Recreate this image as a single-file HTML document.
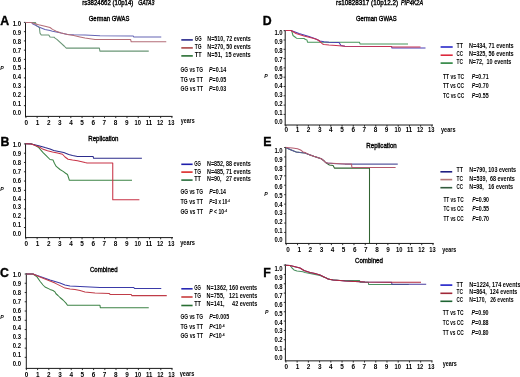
<!DOCTYPE html>
<html><head><meta charset="utf-8"><style>
html,body{margin:0;padding:0;background:#fff;}
svg{display:block;}
text{font-family:"Liberation Sans", sans-serif;fill:#000;white-space:pre;stroke:#000;stroke-width:0.0px;}
.t{filter:grayscale(1) blur(0.35px);}
</style></head><body>
<svg width="520" height="377" viewBox="0 0 520 377">
<rect width="520" height="377" fill="#fff"/>
<g>
<line x1="25.50" y1="22.20" x2="25.50" y2="116.90" stroke="#1a1a1a" stroke-width="1"/>
<line x1="23.90" y1="22.40" x2="25.50" y2="22.40" stroke="#1a1a1a" stroke-width="0.9"/>
<line x1="23.90" y1="31.65" x2="25.50" y2="31.65" stroke="#1a1a1a" stroke-width="0.9"/>
<line x1="23.90" y1="40.90" x2="25.50" y2="40.90" stroke="#1a1a1a" stroke-width="0.9"/>
<line x1="23.90" y1="50.15" x2="25.50" y2="50.15" stroke="#1a1a1a" stroke-width="0.9"/>
<line x1="23.90" y1="59.40" x2="25.50" y2="59.40" stroke="#1a1a1a" stroke-width="0.9"/>
<line x1="23.90" y1="68.65" x2="25.50" y2="68.65" stroke="#1a1a1a" stroke-width="0.9"/>
<line x1="23.90" y1="77.90" x2="25.50" y2="77.90" stroke="#1a1a1a" stroke-width="0.9"/>
<line x1="23.90" y1="87.15" x2="25.50" y2="87.15" stroke="#1a1a1a" stroke-width="0.9"/>
<line x1="23.90" y1="96.40" x2="25.50" y2="96.40" stroke="#1a1a1a" stroke-width="0.9"/>
<line x1="23.90" y1="105.65" x2="25.50" y2="105.65" stroke="#1a1a1a" stroke-width="0.9"/>
<line x1="25.00" y1="116.40" x2="172.50" y2="116.40" stroke="#1a1a1a" stroke-width="1"/>
<line x1="25.90" y1="116.40" x2="25.90" y2="118.10" stroke="#1a1a1a" stroke-width="0.9"/>
<line x1="37.13" y1="116.40" x2="37.13" y2="118.10" stroke="#1a1a1a" stroke-width="0.9"/>
<line x1="48.36" y1="116.40" x2="48.36" y2="118.10" stroke="#1a1a1a" stroke-width="0.9"/>
<line x1="59.59" y1="116.40" x2="59.59" y2="118.10" stroke="#1a1a1a" stroke-width="0.9"/>
<line x1="70.82" y1="116.40" x2="70.82" y2="118.10" stroke="#1a1a1a" stroke-width="0.9"/>
<line x1="82.05" y1="116.40" x2="82.05" y2="118.10" stroke="#1a1a1a" stroke-width="0.9"/>
<line x1="93.28" y1="116.40" x2="93.28" y2="118.10" stroke="#1a1a1a" stroke-width="0.9"/>
<line x1="104.52" y1="116.40" x2="104.52" y2="118.10" stroke="#1a1a1a" stroke-width="0.9"/>
<line x1="115.75" y1="116.40" x2="115.75" y2="118.10" stroke="#1a1a1a" stroke-width="0.9"/>
<line x1="126.98" y1="116.40" x2="126.98" y2="118.10" stroke="#1a1a1a" stroke-width="0.9"/>
<line x1="138.21" y1="116.40" x2="138.21" y2="118.10" stroke="#1a1a1a" stroke-width="0.9"/>
<line x1="149.44" y1="116.40" x2="149.44" y2="118.10" stroke="#1a1a1a" stroke-width="0.9"/>
<line x1="160.67" y1="116.40" x2="160.67" y2="118.10" stroke="#1a1a1a" stroke-width="0.9"/>
<line x1="171.90" y1="116.40" x2="171.90" y2="118.10" stroke="#1a1a1a" stroke-width="0.9"/>
<polyline points="25.50,22.40 35.50,22.40 36.25,25.60 39.40,27.50 40.00,33.10 41.25,35.00 48.75,35.00 50.00,36.90 54.40,37.25 55.00,38.10 56.90,39.40 64.40,46.25 66.25,48.10 99.40,48.10 99.90,51.10 148.75,51.10" fill="none" stroke="#6a9676" stroke-width="1.05" stroke-linejoin="round"/>
<polyline points="25.50,22.40 31.50,22.40 32.50,23.75 38.75,26.90 45.00,29.40 50.00,30.60 52.50,31.25 56.25,31.90 61.25,33.10 67.50,34.40 73.75,34.75 85.00,34.90 100.00,35.80 133.20,35.90 133.80,37.00 161.25,37.00" fill="none" stroke="#6464b4" stroke-width="1.05" stroke-linejoin="round"/>
<polyline points="25.50,22.40 31.50,22.40 32.50,23.10 38.75,24.75 45.00,26.25 50.00,27.50 52.50,29.40 56.25,31.25 61.25,33.10 67.50,34.40 73.75,35.60 80.00,36.90 85.00,38.10 95.00,39.50 130.60,39.50 131.20,41.80 166.25,41.80" fill="none" stroke="#b46e78" stroke-width="1.05" stroke-linejoin="round"/>
<line x1="181.30" y1="39.90" x2="192.80" y2="39.90" stroke="#28288c" stroke-width="1.6"/>
<line x1="181.30" y1="47.90" x2="192.80" y2="47.90" stroke="#aa4646" stroke-width="1.6"/>
<line x1="181.30" y1="55.90" x2="192.80" y2="55.90" stroke="#286e32" stroke-width="1.6"/>
<line x1="25.55" y1="143.30" x2="25.55" y2="238.10" stroke="#1a1a1a" stroke-width="1"/>
<line x1="23.95" y1="143.90" x2="25.55" y2="143.90" stroke="#1a1a1a" stroke-width="0.9"/>
<line x1="23.95" y1="153.19" x2="25.55" y2="153.19" stroke="#1a1a1a" stroke-width="0.9"/>
<line x1="23.95" y1="162.48" x2="25.55" y2="162.48" stroke="#1a1a1a" stroke-width="0.9"/>
<line x1="23.95" y1="171.77" x2="25.55" y2="171.77" stroke="#1a1a1a" stroke-width="0.9"/>
<line x1="23.95" y1="181.06" x2="25.55" y2="181.06" stroke="#1a1a1a" stroke-width="0.9"/>
<line x1="23.95" y1="190.35" x2="25.55" y2="190.35" stroke="#1a1a1a" stroke-width="0.9"/>
<line x1="23.95" y1="199.64" x2="25.55" y2="199.64" stroke="#1a1a1a" stroke-width="0.9"/>
<line x1="23.95" y1="208.93" x2="25.55" y2="208.93" stroke="#1a1a1a" stroke-width="0.9"/>
<line x1="23.95" y1="218.22" x2="25.55" y2="218.22" stroke="#1a1a1a" stroke-width="0.9"/>
<line x1="23.95" y1="227.51" x2="25.55" y2="227.51" stroke="#1a1a1a" stroke-width="0.9"/>
<line x1="25.05" y1="237.60" x2="173.00" y2="237.60" stroke="#1a1a1a" stroke-width="1"/>
<line x1="25.90" y1="237.60" x2="25.90" y2="239.30" stroke="#1a1a1a" stroke-width="0.9"/>
<line x1="37.13" y1="237.60" x2="37.13" y2="239.30" stroke="#1a1a1a" stroke-width="0.9"/>
<line x1="48.36" y1="237.60" x2="48.36" y2="239.30" stroke="#1a1a1a" stroke-width="0.9"/>
<line x1="59.59" y1="237.60" x2="59.59" y2="239.30" stroke="#1a1a1a" stroke-width="0.9"/>
<line x1="70.82" y1="237.60" x2="70.82" y2="239.30" stroke="#1a1a1a" stroke-width="0.9"/>
<line x1="82.05" y1="237.60" x2="82.05" y2="239.30" stroke="#1a1a1a" stroke-width="0.9"/>
<line x1="93.28" y1="237.60" x2="93.28" y2="239.30" stroke="#1a1a1a" stroke-width="0.9"/>
<line x1="104.52" y1="237.60" x2="104.52" y2="239.30" stroke="#1a1a1a" stroke-width="0.9"/>
<line x1="115.75" y1="237.60" x2="115.75" y2="239.30" stroke="#1a1a1a" stroke-width="0.9"/>
<line x1="126.98" y1="237.60" x2="126.98" y2="239.30" stroke="#1a1a1a" stroke-width="0.9"/>
<line x1="138.21" y1="237.60" x2="138.21" y2="239.30" stroke="#1a1a1a" stroke-width="0.9"/>
<line x1="149.44" y1="237.60" x2="149.44" y2="239.30" stroke="#1a1a1a" stroke-width="0.9"/>
<line x1="160.67" y1="237.60" x2="160.67" y2="239.30" stroke="#1a1a1a" stroke-width="0.9"/>
<line x1="171.90" y1="237.60" x2="171.90" y2="239.30" stroke="#1a1a1a" stroke-width="0.9"/>
<polyline points="25.50,143.70 31.00,143.80 34.50,145.00 38.75,147.60 43.10,152.60 46.90,156.40 50.00,159.50 53.10,160.10 54.40,163.25 56.25,166.40 60.00,169.50 63.10,171.40 65.60,173.25 67.50,174.50 68.75,178.25 69.40,180.30 132.00,180.30" fill="none" stroke="#3c8446" stroke-width="1.05" stroke-linejoin="round"/>
<polyline points="25.50,143.70 31.25,143.90 38.75,145.75 45.00,147.60 50.00,148.90 53.75,150.50 58.75,151.40 63.75,152.60 68.75,154.50 72.50,155.50 77.50,156.40 93.10,156.40 93.60,158.30 141.90,158.30" fill="none" stroke="#2c2c8c" stroke-width="1.05" stroke-linejoin="round"/>
<polyline points="25.50,143.70 31.25,143.90 38.75,146.75 42.50,148.90 47.50,150.75 52.50,152.00 57.50,153.00 62.50,154.25 65.00,157.00 68.10,159.25 72.50,160.10 77.50,160.75 85.00,162.60 87.00,163.00 112.75,163.00 112.75,199.75 139.40,199.75" fill="none" stroke="#c83246" stroke-width="1.05" stroke-linejoin="round"/>
<line x1="181.30" y1="164.30" x2="192.60" y2="164.30" stroke="#1e1eaa" stroke-width="1.6"/>
<line x1="181.30" y1="172.10" x2="192.60" y2="172.10" stroke="#dc2828" stroke-width="1.6"/>
<line x1="181.30" y1="180.10" x2="192.60" y2="180.10" stroke="#286e3c" stroke-width="1.6"/>
<line x1="26.30" y1="273.10" x2="26.30" y2="368.90" stroke="#1a1a1a" stroke-width="1"/>
<line x1="24.70" y1="274.00" x2="26.30" y2="274.00" stroke="#1a1a1a" stroke-width="0.9"/>
<line x1="24.70" y1="283.26" x2="26.30" y2="283.26" stroke="#1a1a1a" stroke-width="0.9"/>
<line x1="24.70" y1="292.52" x2="26.30" y2="292.52" stroke="#1a1a1a" stroke-width="0.9"/>
<line x1="24.70" y1="301.78" x2="26.30" y2="301.78" stroke="#1a1a1a" stroke-width="0.9"/>
<line x1="24.70" y1="311.04" x2="26.30" y2="311.04" stroke="#1a1a1a" stroke-width="0.9"/>
<line x1="24.70" y1="320.30" x2="26.30" y2="320.30" stroke="#1a1a1a" stroke-width="0.9"/>
<line x1="24.70" y1="329.56" x2="26.30" y2="329.56" stroke="#1a1a1a" stroke-width="0.9"/>
<line x1="24.70" y1="338.82" x2="26.30" y2="338.82" stroke="#1a1a1a" stroke-width="0.9"/>
<line x1="24.70" y1="348.08" x2="26.30" y2="348.08" stroke="#1a1a1a" stroke-width="0.9"/>
<line x1="24.70" y1="357.34" x2="26.30" y2="357.34" stroke="#1a1a1a" stroke-width="0.9"/>
<line x1="25.80" y1="368.40" x2="172.50" y2="368.40" stroke="#1a1a1a" stroke-width="1"/>
<line x1="26.40" y1="368.40" x2="26.40" y2="370.10" stroke="#1a1a1a" stroke-width="0.9"/>
<line x1="37.60" y1="368.40" x2="37.60" y2="370.10" stroke="#1a1a1a" stroke-width="0.9"/>
<line x1="48.80" y1="368.40" x2="48.80" y2="370.10" stroke="#1a1a1a" stroke-width="0.9"/>
<line x1="60.00" y1="368.40" x2="60.00" y2="370.10" stroke="#1a1a1a" stroke-width="0.9"/>
<line x1="71.20" y1="368.40" x2="71.20" y2="370.10" stroke="#1a1a1a" stroke-width="0.9"/>
<line x1="82.40" y1="368.40" x2="82.40" y2="370.10" stroke="#1a1a1a" stroke-width="0.9"/>
<line x1="93.60" y1="368.40" x2="93.60" y2="370.10" stroke="#1a1a1a" stroke-width="0.9"/>
<line x1="104.80" y1="368.40" x2="104.80" y2="370.10" stroke="#1a1a1a" stroke-width="0.9"/>
<line x1="116.00" y1="368.40" x2="116.00" y2="370.10" stroke="#1a1a1a" stroke-width="0.9"/>
<line x1="127.20" y1="368.40" x2="127.20" y2="370.10" stroke="#1a1a1a" stroke-width="0.9"/>
<line x1="138.40" y1="368.40" x2="138.40" y2="370.10" stroke="#1a1a1a" stroke-width="0.9"/>
<line x1="149.60" y1="368.40" x2="149.60" y2="370.10" stroke="#1a1a1a" stroke-width="0.9"/>
<line x1="160.80" y1="368.40" x2="160.80" y2="370.10" stroke="#1a1a1a" stroke-width="0.9"/>
<line x1="172.00" y1="368.40" x2="172.00" y2="370.10" stroke="#1a1a1a" stroke-width="0.9"/>
<polyline points="26.20,274.00 33.00,274.00 37.00,276.90 40.00,281.25 43.00,285.00 45.00,287.00 50.00,289.40 53.00,290.50 55.00,291.90 56.00,293.75 58.00,295.50 60.00,297.50 63.00,300.00 66.00,303.10 67.50,305.30 100.00,305.30 100.30,307.70 148.75,307.70" fill="none" stroke="#3c8246" stroke-width="1.05" stroke-linejoin="round"/>
<polyline points="26.20,274.00 33.00,274.00 40.00,276.60 50.00,280.00 55.00,281.50 60.00,283.10 65.00,285.00 70.00,286.00 85.00,286.70 100.00,287.50 133.75,287.50 134.50,288.40 161.25,288.40" fill="none" stroke="#3a3aa8" stroke-width="1.05" stroke-linejoin="round"/>
<polyline points="26.20,274.00 33.00,274.00 40.00,277.00 50.00,281.00 55.00,283.10 60.00,285.60 65.00,288.10 70.00,289.00 75.00,289.50 80.00,290.60 85.00,291.90 95.00,293.10 109.40,293.50 110.00,294.40 131.25,294.40 131.75,295.60 166.75,295.60" fill="none" stroke="#c03c48" stroke-width="1.05" stroke-linejoin="round"/>
<line x1="181.30" y1="288.80" x2="192.60" y2="288.80" stroke="#2828b4" stroke-width="1.6"/>
<line x1="181.30" y1="297.00" x2="192.60" y2="297.00" stroke="#c83c3c" stroke-width="1.6"/>
<line x1="181.30" y1="305.50" x2="192.60" y2="305.50" stroke="#286e32" stroke-width="1.6"/>
<line x1="285.20" y1="30.10" x2="285.20" y2="125.50" stroke="#1a1a1a" stroke-width="1"/>
<line x1="283.60" y1="30.70" x2="285.20" y2="30.70" stroke="#1a1a1a" stroke-width="0.9"/>
<line x1="283.60" y1="40.00" x2="285.20" y2="40.00" stroke="#1a1a1a" stroke-width="0.9"/>
<line x1="283.60" y1="49.30" x2="285.20" y2="49.30" stroke="#1a1a1a" stroke-width="0.9"/>
<line x1="283.60" y1="58.60" x2="285.20" y2="58.60" stroke="#1a1a1a" stroke-width="0.9"/>
<line x1="283.60" y1="67.90" x2="285.20" y2="67.90" stroke="#1a1a1a" stroke-width="0.9"/>
<line x1="283.60" y1="77.20" x2="285.20" y2="77.20" stroke="#1a1a1a" stroke-width="0.9"/>
<line x1="283.60" y1="86.50" x2="285.20" y2="86.50" stroke="#1a1a1a" stroke-width="0.9"/>
<line x1="283.60" y1="95.80" x2="285.20" y2="95.80" stroke="#1a1a1a" stroke-width="0.9"/>
<line x1="283.60" y1="105.10" x2="285.20" y2="105.10" stroke="#1a1a1a" stroke-width="0.9"/>
<line x1="283.60" y1="114.40" x2="285.20" y2="114.40" stroke="#1a1a1a" stroke-width="0.9"/>
<line x1="284.70" y1="125.00" x2="433.00" y2="125.00" stroke="#1a1a1a" stroke-width="1"/>
<line x1="285.90" y1="125.00" x2="285.90" y2="126.70" stroke="#1a1a1a" stroke-width="0.9"/>
<line x1="297.13" y1="125.00" x2="297.13" y2="126.70" stroke="#1a1a1a" stroke-width="0.9"/>
<line x1="308.36" y1="125.00" x2="308.36" y2="126.70" stroke="#1a1a1a" stroke-width="0.9"/>
<line x1="319.59" y1="125.00" x2="319.59" y2="126.70" stroke="#1a1a1a" stroke-width="0.9"/>
<line x1="330.82" y1="125.00" x2="330.82" y2="126.70" stroke="#1a1a1a" stroke-width="0.9"/>
<line x1="342.05" y1="125.00" x2="342.05" y2="126.70" stroke="#1a1a1a" stroke-width="0.9"/>
<line x1="353.28" y1="125.00" x2="353.28" y2="126.70" stroke="#1a1a1a" stroke-width="0.9"/>
<line x1="364.52" y1="125.00" x2="364.52" y2="126.70" stroke="#1a1a1a" stroke-width="0.9"/>
<line x1="375.75" y1="125.00" x2="375.75" y2="126.70" stroke="#1a1a1a" stroke-width="0.9"/>
<line x1="386.98" y1="125.00" x2="386.98" y2="126.70" stroke="#1a1a1a" stroke-width="0.9"/>
<line x1="398.21" y1="125.00" x2="398.21" y2="126.70" stroke="#1a1a1a" stroke-width="0.9"/>
<line x1="409.44" y1="125.00" x2="409.44" y2="126.70" stroke="#1a1a1a" stroke-width="0.9"/>
<line x1="420.67" y1="125.00" x2="420.67" y2="126.70" stroke="#1a1a1a" stroke-width="0.9"/>
<line x1="431.90" y1="125.00" x2="431.90" y2="126.70" stroke="#1a1a1a" stroke-width="0.9"/>
<polyline points="285.50,30.50 291.50,30.50 292.00,32.00 293.00,35.50 295.00,37.00 296.50,38.20 304.00,38.50 305.50,39.50 307.00,40.00 307.50,42.20 359.50,42.20 360.00,43.90 408.00,43.90" fill="none" stroke="#46965a" stroke-width="1.05" stroke-linejoin="round"/>
<polyline points="285.50,30.50 291.00,30.50 299.00,33.50 309.00,36.50 316.00,39.00 320.00,41.00 324.00,41.80 329.00,42.20 339.00,42.50 341.00,45.50 345.00,46.20 391.50,46.50 392.00,48.00 425.50,48.00" fill="none" stroke="#4a3cb4" stroke-width="1.05" stroke-linejoin="round"/>
<polyline points="285.50,30.50 291.00,30.50 296.00,33.50 304.00,36.00 310.00,37.50 314.00,38.50 318.00,40.00 321.00,42.50 322.50,44.00 324.00,44.50 329.00,45.00 336.00,45.50 345.00,46.20 391.50,46.50 392.00,47.00 420.50,47.00" fill="none" stroke="#c83250" stroke-width="1.05" stroke-linejoin="round"/>
<line x1="440.60" y1="47.00" x2="452.70" y2="47.00" stroke="#2828c8" stroke-width="1.6"/>
<line x1="440.60" y1="55.20" x2="452.70" y2="55.20" stroke="#dc283c" stroke-width="1.6"/>
<line x1="440.60" y1="63.10" x2="452.70" y2="63.10" stroke="#28823c" stroke-width="1.6"/>
<line x1="285.80" y1="146.90" x2="285.80" y2="243.95" stroke="#1a1a1a" stroke-width="1"/>
<line x1="284.20" y1="147.50" x2="285.80" y2="147.50" stroke="#1a1a1a" stroke-width="0.9"/>
<line x1="284.20" y1="156.94" x2="285.80" y2="156.94" stroke="#1a1a1a" stroke-width="0.9"/>
<line x1="284.20" y1="166.38" x2="285.80" y2="166.38" stroke="#1a1a1a" stroke-width="0.9"/>
<line x1="284.20" y1="175.82" x2="285.80" y2="175.82" stroke="#1a1a1a" stroke-width="0.9"/>
<line x1="284.20" y1="185.26" x2="285.80" y2="185.26" stroke="#1a1a1a" stroke-width="0.9"/>
<line x1="284.20" y1="194.70" x2="285.80" y2="194.70" stroke="#1a1a1a" stroke-width="0.9"/>
<line x1="284.20" y1="204.14" x2="285.80" y2="204.14" stroke="#1a1a1a" stroke-width="0.9"/>
<line x1="284.20" y1="213.58" x2="285.80" y2="213.58" stroke="#1a1a1a" stroke-width="0.9"/>
<line x1="284.20" y1="223.02" x2="285.80" y2="223.02" stroke="#1a1a1a" stroke-width="0.9"/>
<line x1="284.20" y1="232.46" x2="285.80" y2="232.46" stroke="#1a1a1a" stroke-width="0.9"/>
<line x1="285.30" y1="243.45" x2="433.75" y2="243.45" stroke="#1a1a1a" stroke-width="1"/>
<line x1="286.25" y1="243.45" x2="286.25" y2="245.15" stroke="#1a1a1a" stroke-width="0.9"/>
<line x1="297.54" y1="243.45" x2="297.54" y2="245.15" stroke="#1a1a1a" stroke-width="0.9"/>
<line x1="308.83" y1="243.45" x2="308.83" y2="245.15" stroke="#1a1a1a" stroke-width="0.9"/>
<line x1="320.12" y1="243.45" x2="320.12" y2="245.15" stroke="#1a1a1a" stroke-width="0.9"/>
<line x1="331.40" y1="243.45" x2="331.40" y2="245.15" stroke="#1a1a1a" stroke-width="0.9"/>
<line x1="342.69" y1="243.45" x2="342.69" y2="245.15" stroke="#1a1a1a" stroke-width="0.9"/>
<line x1="353.98" y1="243.45" x2="353.98" y2="245.15" stroke="#1a1a1a" stroke-width="0.9"/>
<line x1="365.27" y1="243.45" x2="365.27" y2="245.15" stroke="#1a1a1a" stroke-width="0.9"/>
<line x1="376.56" y1="243.45" x2="376.56" y2="245.15" stroke="#1a1a1a" stroke-width="0.9"/>
<line x1="387.85" y1="243.45" x2="387.85" y2="245.15" stroke="#1a1a1a" stroke-width="0.9"/>
<line x1="399.13" y1="243.45" x2="399.13" y2="245.15" stroke="#1a1a1a" stroke-width="0.9"/>
<line x1="410.42" y1="243.45" x2="410.42" y2="245.15" stroke="#1a1a1a" stroke-width="0.9"/>
<line x1="421.71" y1="243.45" x2="421.71" y2="245.15" stroke="#1a1a1a" stroke-width="0.9"/>
<line x1="433.00" y1="243.45" x2="433.00" y2="245.15" stroke="#1a1a1a" stroke-width="0.9"/>
<polyline points="285.80,147.50 290.00,149.40 293.75,151.00 296.25,151.90 300.00,152.50 305.00,153.10 308.75,154.40 313.75,156.25 317.50,157.50 321.25,158.75 323.75,160.60 325.60,162.50 327.50,163.75 329.40,165.00 333.10,165.60 334.40,168.10 369.50,168.10 369.50,243.00" fill="none" stroke="#326432" stroke-width="1.05" stroke-linejoin="round"/>
<polyline points="285.80,147.50 290.00,149.40 293.75,151.00 296.25,151.90 300.00,152.50 305.00,153.10 308.75,154.40 313.75,156.25 317.50,157.50 321.25,158.75 323.75,160.60 325.60,162.50 327.50,163.10 336.25,163.75 345.00,164.10 397.75,164.10" fill="none" stroke="#5a5aa0" stroke-width="1.05" stroke-linejoin="round"/>
<polyline points="285.80,147.50 292.50,148.10 297.50,148.75 300.60,150.00 303.10,151.90 305.00,152.50 308.75,154.40 313.75,156.25 317.50,157.50 321.25,158.75 323.75,160.60 325.60,162.50 327.50,163.10 336.25,163.60 345.00,164.00 351.50,164.00 351.90,167.40 395.60,167.40" fill="none" stroke="#b45a6e" stroke-width="1.05" stroke-linejoin="round"/>
<line x1="440.40" y1="171.80" x2="452.20" y2="171.80" stroke="#1e1e82" stroke-width="1.6"/>
<line x1="440.40" y1="179.60" x2="452.20" y2="179.60" stroke="#b47878" stroke-width="1.6"/>
<line x1="440.40" y1="187.70" x2="452.20" y2="187.70" stroke="#325a3c" stroke-width="1.6"/>
<line x1="285.40" y1="264.30" x2="285.40" y2="361.35" stroke="#1a1a1a" stroke-width="1"/>
<line x1="283.80" y1="265.10" x2="285.40" y2="265.10" stroke="#1a1a1a" stroke-width="0.9"/>
<line x1="283.80" y1="274.43" x2="285.40" y2="274.43" stroke="#1a1a1a" stroke-width="0.9"/>
<line x1="283.80" y1="283.76" x2="285.40" y2="283.76" stroke="#1a1a1a" stroke-width="0.9"/>
<line x1="283.80" y1="293.09" x2="285.40" y2="293.09" stroke="#1a1a1a" stroke-width="0.9"/>
<line x1="283.80" y1="302.42" x2="285.40" y2="302.42" stroke="#1a1a1a" stroke-width="0.9"/>
<line x1="283.80" y1="311.75" x2="285.40" y2="311.75" stroke="#1a1a1a" stroke-width="0.9"/>
<line x1="283.80" y1="321.08" x2="285.40" y2="321.08" stroke="#1a1a1a" stroke-width="0.9"/>
<line x1="283.80" y1="330.41" x2="285.40" y2="330.41" stroke="#1a1a1a" stroke-width="0.9"/>
<line x1="283.80" y1="339.74" x2="285.40" y2="339.74" stroke="#1a1a1a" stroke-width="0.9"/>
<line x1="283.80" y1="349.07" x2="285.40" y2="349.07" stroke="#1a1a1a" stroke-width="0.9"/>
<line x1="284.90" y1="360.85" x2="432.50" y2="360.85" stroke="#1a1a1a" stroke-width="1"/>
<line x1="285.90" y1="360.85" x2="285.90" y2="362.55" stroke="#1a1a1a" stroke-width="0.9"/>
<line x1="297.13" y1="360.85" x2="297.13" y2="362.55" stroke="#1a1a1a" stroke-width="0.9"/>
<line x1="308.36" y1="360.85" x2="308.36" y2="362.55" stroke="#1a1a1a" stroke-width="0.9"/>
<line x1="319.59" y1="360.85" x2="319.59" y2="362.55" stroke="#1a1a1a" stroke-width="0.9"/>
<line x1="330.82" y1="360.85" x2="330.82" y2="362.55" stroke="#1a1a1a" stroke-width="0.9"/>
<line x1="342.05" y1="360.85" x2="342.05" y2="362.55" stroke="#1a1a1a" stroke-width="0.9"/>
<line x1="353.28" y1="360.85" x2="353.28" y2="362.55" stroke="#1a1a1a" stroke-width="0.9"/>
<line x1="364.52" y1="360.85" x2="364.52" y2="362.55" stroke="#1a1a1a" stroke-width="0.9"/>
<line x1="375.75" y1="360.85" x2="375.75" y2="362.55" stroke="#1a1a1a" stroke-width="0.9"/>
<line x1="386.98" y1="360.85" x2="386.98" y2="362.55" stroke="#1a1a1a" stroke-width="0.9"/>
<line x1="398.21" y1="360.85" x2="398.21" y2="362.55" stroke="#1a1a1a" stroke-width="0.9"/>
<line x1="409.44" y1="360.85" x2="409.44" y2="362.55" stroke="#1a1a1a" stroke-width="0.9"/>
<line x1="420.67" y1="360.85" x2="420.67" y2="362.55" stroke="#1a1a1a" stroke-width="0.9"/>
<line x1="431.90" y1="360.85" x2="431.90" y2="362.55" stroke="#1a1a1a" stroke-width="0.9"/>
<polyline points="285.60,265.20 290.00,265.50 292.00,268.00 294.00,269.90 297.00,271.10 303.00,271.75 305.00,272.50 320.00,275.50 323.00,276.75 325.00,277.50 330.00,279.50 340.00,280.50 359.50,280.50 360.00,282.20 368.30,282.20 368.60,284.40 408.75,284.40" fill="none" stroke="#4a9060" stroke-width="1.05" stroke-linejoin="round"/>
<polyline points="285.60,265.20 290.00,265.50 295.00,266.75 300.00,268.00 304.00,270.50 310.00,272.40 315.00,273.60 320.00,274.90 323.00,276.50 325.00,277.40 328.00,279.00 333.00,279.90 340.00,280.50 345.00,281.10 365.00,282.00 391.50,282.20 392.00,284.30 426.20,284.30" fill="none" stroke="#4a3ca0" stroke-width="1.05" stroke-linejoin="round"/>
<polyline points="285.60,265.20 290.00,265.50 295.00,266.75 300.00,268.00 304.00,270.50 310.00,272.40 315.00,273.60 320.00,274.90 323.00,276.50 325.00,277.40 328.00,279.00 333.00,279.90 340.00,280.50 345.00,281.10 365.00,282.00 390.00,282.20 421.00,282.20" fill="none" stroke="#b4283c" stroke-width="1.05" stroke-linejoin="round"/>
<line x1="440.40" y1="285.10" x2="452.30" y2="285.10" stroke="#1e1ec8" stroke-width="1.6"/>
<line x1="440.40" y1="293.30" x2="452.30" y2="293.30" stroke="#a02838" stroke-width="1.6"/>
<line x1="440.40" y1="301.30" x2="452.30" y2="301.30" stroke="#1e6432" stroke-width="1.6"/>
</g>
<g class="t">
<text x="0.20" y="24.50" font-size="12.3" font-weight="bold" style="stroke-width:0.35px">A</text>
<text x="12.70" y="25.99" font-size="6.4" font-weight="bold" textLength="8.30" lengthAdjust="spacingAndGlyphs" style="stroke-width:0">1.0</text>
<text x="12.70" y="34.87" font-size="6.4" font-weight="bold" textLength="8.30" lengthAdjust="spacingAndGlyphs" style="stroke-width:0">0.9</text>
<text x="12.70" y="43.75" font-size="6.4" font-weight="bold" textLength="8.30" lengthAdjust="spacingAndGlyphs" style="stroke-width:0">0.8</text>
<text x="12.70" y="52.63" font-size="6.4" font-weight="bold" textLength="8.30" lengthAdjust="spacingAndGlyphs" style="stroke-width:0">0.7</text>
<text x="12.70" y="61.51" font-size="6.4" font-weight="bold" textLength="8.30" lengthAdjust="spacingAndGlyphs" style="stroke-width:0">0.6</text>
<text x="12.70" y="70.39" font-size="6.4" font-weight="bold" textLength="8.30" lengthAdjust="spacingAndGlyphs" style="stroke-width:0">0.5</text>
<text x="12.70" y="79.27" font-size="6.4" font-weight="bold" textLength="8.30" lengthAdjust="spacingAndGlyphs" style="stroke-width:0">0.4</text>
<text x="12.70" y="88.15" font-size="6.4" font-weight="bold" textLength="8.30" lengthAdjust="spacingAndGlyphs" style="stroke-width:0">0.3</text>
<text x="12.70" y="97.03" font-size="6.4" font-weight="bold" textLength="8.30" lengthAdjust="spacingAndGlyphs" style="stroke-width:0">0.2</text>
<text x="12.70" y="105.91" font-size="6.4" font-weight="bold" textLength="8.30" lengthAdjust="spacingAndGlyphs" style="stroke-width:0">0.1</text>
<text x="12.70" y="114.79" font-size="6.4" font-weight="bold" textLength="8.30" lengthAdjust="spacingAndGlyphs" style="stroke-width:0">0.0</text>
<text x="26.40" y="124.94" font-size="6.4" font-weight="bold" text-anchor="middle" style="stroke-width:0">0</text>
<text x="37.54" y="124.94" font-size="6.4" font-weight="bold" text-anchor="middle" style="stroke-width:0">1</text>
<text x="48.68" y="124.94" font-size="6.4" font-weight="bold" text-anchor="middle" style="stroke-width:0">2</text>
<text x="59.83" y="124.94" font-size="6.4" font-weight="bold" text-anchor="middle" style="stroke-width:0">3</text>
<text x="70.97" y="124.94" font-size="6.4" font-weight="bold" text-anchor="middle" style="stroke-width:0">4</text>
<text x="82.11" y="124.94" font-size="6.4" font-weight="bold" text-anchor="middle" style="stroke-width:0">5</text>
<text x="93.25" y="124.94" font-size="6.4" font-weight="bold" text-anchor="middle" style="stroke-width:0">6</text>
<text x="104.40" y="124.94" font-size="6.4" font-weight="bold" text-anchor="middle" style="stroke-width:0">7</text>
<text x="115.54" y="124.94" font-size="6.4" font-weight="bold" text-anchor="middle" style="stroke-width:0">8</text>
<text x="126.68" y="124.94" font-size="6.4" font-weight="bold" text-anchor="middle" style="stroke-width:0">9</text>
<text x="134.62" y="124.94" font-size="6.4" font-weight="bold" textLength="6.40" lengthAdjust="spacingAndGlyphs" style="stroke-width:0">10</text>
<text x="145.77" y="124.94" font-size="6.4" font-weight="bold" textLength="6.40" lengthAdjust="spacingAndGlyphs" style="stroke-width:0">11</text>
<text x="156.91" y="124.94" font-size="6.4" font-weight="bold" textLength="6.40" lengthAdjust="spacingAndGlyphs" style="stroke-width:0">12</text>
<text x="168.05" y="124.94" font-size="6.4" font-weight="bold" textLength="6.40" lengthAdjust="spacingAndGlyphs" style="stroke-width:0">13</text>
<text x="180.80" y="122.70" font-size="6.7" font-weight="bold" textLength="13.80" lengthAdjust="spacingAndGlyphs">years</text>
<text x="88.80" y="21.00" font-size="6.6" textLength="40.60" lengthAdjust="spacingAndGlyphs" style="stroke-width:0.35px">German GWAS</text>
<text x="0.20" y="69.70" font-size="5.2" font-weight="bold" font-style="italic">P</text>
<text x="194.80" y="41.10" font-size="6.3" font-weight="bold" textLength="6.80" lengthAdjust="spacingAndGlyphs">GG</text>
<text x="207.30" y="41.10" font-size="6.3" font-weight="bold" textLength="43.40" lengthAdjust="spacingAndGlyphs">N=510, 72 events</text>
<text x="194.80" y="48.90" font-size="6.3" font-weight="bold" textLength="6.80" lengthAdjust="spacingAndGlyphs">TG</text>
<text x="207.30" y="48.90" font-size="6.3" font-weight="bold" textLength="43.40" lengthAdjust="spacingAndGlyphs">N=270, 50 events</text>
<text x="194.80" y="56.70" font-size="6.3" font-weight="bold" textLength="6.80" lengthAdjust="spacingAndGlyphs">TT</text>
<text x="207.30" y="56.70" font-size="6.3" font-weight="bold" textLength="43.40" lengthAdjust="spacingAndGlyphs">N=51,  15 events</text>
<text x="180.60" y="72.25" font-size="6.3" font-weight="bold" textLength="22.40" lengthAdjust="spacingAndGlyphs">GG vs TG</text>
<text x="209.00" y="72.25" font-size="6.3" font-weight="bold" textLength="17.20" lengthAdjust="spacingAndGlyphs"><tspan font-style="italic">P</tspan>=0.14</text>
<text x="180.60" y="81.75" font-size="6.3" font-weight="bold" textLength="22.40" lengthAdjust="spacingAndGlyphs">TG vs TT</text>
<text x="209.00" y="81.75" font-size="6.3" font-weight="bold" textLength="17.20" lengthAdjust="spacingAndGlyphs"><tspan font-style="italic">P</tspan>=0.05</text>
<text x="180.60" y="91.25" font-size="6.3" font-weight="bold" textLength="22.40" lengthAdjust="spacingAndGlyphs">GG vs TT</text>
<text x="209.00" y="91.25" font-size="6.3" font-weight="bold" textLength="17.20" lengthAdjust="spacingAndGlyphs"><tspan font-style="italic">P</tspan>=0.03</text>
<text x="0.60" y="145.50" font-size="12.3" font-weight="bold" style="stroke-width:0.35px">B</text>
<text x="12.70" y="146.69" font-size="6.4" font-weight="bold" textLength="8.30" lengthAdjust="spacingAndGlyphs" style="stroke-width:0">1.0</text>
<text x="12.70" y="155.66" font-size="6.4" font-weight="bold" textLength="8.30" lengthAdjust="spacingAndGlyphs" style="stroke-width:0">0.9</text>
<text x="12.70" y="164.63" font-size="6.4" font-weight="bold" textLength="8.30" lengthAdjust="spacingAndGlyphs" style="stroke-width:0">0.8</text>
<text x="12.70" y="173.60" font-size="6.4" font-weight="bold" textLength="8.30" lengthAdjust="spacingAndGlyphs" style="stroke-width:0">0.7</text>
<text x="12.70" y="182.57" font-size="6.4" font-weight="bold" textLength="8.30" lengthAdjust="spacingAndGlyphs" style="stroke-width:0">0.6</text>
<text x="12.70" y="191.54" font-size="6.4" font-weight="bold" textLength="8.30" lengthAdjust="spacingAndGlyphs" style="stroke-width:0">0.5</text>
<text x="12.70" y="200.51" font-size="6.4" font-weight="bold" textLength="8.30" lengthAdjust="spacingAndGlyphs" style="stroke-width:0">0.4</text>
<text x="12.70" y="209.48" font-size="6.4" font-weight="bold" textLength="8.30" lengthAdjust="spacingAndGlyphs" style="stroke-width:0">0.3</text>
<text x="12.70" y="218.45" font-size="6.4" font-weight="bold" textLength="8.30" lengthAdjust="spacingAndGlyphs" style="stroke-width:0">0.2</text>
<text x="12.70" y="227.42" font-size="6.4" font-weight="bold" textLength="8.30" lengthAdjust="spacingAndGlyphs" style="stroke-width:0">0.1</text>
<text x="12.70" y="236.39" font-size="6.4" font-weight="bold" textLength="8.30" lengthAdjust="spacingAndGlyphs" style="stroke-width:0">0.0</text>
<text x="26.40" y="245.99" font-size="6.4" font-weight="bold" text-anchor="middle" style="stroke-width:0">0</text>
<text x="37.54" y="245.99" font-size="6.4" font-weight="bold" text-anchor="middle" style="stroke-width:0">1</text>
<text x="48.68" y="245.99" font-size="6.4" font-weight="bold" text-anchor="middle" style="stroke-width:0">2</text>
<text x="59.83" y="245.99" font-size="6.4" font-weight="bold" text-anchor="middle" style="stroke-width:0">3</text>
<text x="70.97" y="245.99" font-size="6.4" font-weight="bold" text-anchor="middle" style="stroke-width:0">4</text>
<text x="82.11" y="245.99" font-size="6.4" font-weight="bold" text-anchor="middle" style="stroke-width:0">5</text>
<text x="93.25" y="245.99" font-size="6.4" font-weight="bold" text-anchor="middle" style="stroke-width:0">6</text>
<text x="104.40" y="245.99" font-size="6.4" font-weight="bold" text-anchor="middle" style="stroke-width:0">7</text>
<text x="115.54" y="245.99" font-size="6.4" font-weight="bold" text-anchor="middle" style="stroke-width:0">8</text>
<text x="126.68" y="245.99" font-size="6.4" font-weight="bold" text-anchor="middle" style="stroke-width:0">9</text>
<text x="134.62" y="245.99" font-size="6.4" font-weight="bold" textLength="6.40" lengthAdjust="spacingAndGlyphs" style="stroke-width:0">10</text>
<text x="145.77" y="245.99" font-size="6.4" font-weight="bold" textLength="6.40" lengthAdjust="spacingAndGlyphs" style="stroke-width:0">11</text>
<text x="156.91" y="245.99" font-size="6.4" font-weight="bold" textLength="6.40" lengthAdjust="spacingAndGlyphs" style="stroke-width:0">12</text>
<text x="168.05" y="245.99" font-size="6.4" font-weight="bold" textLength="6.40" lengthAdjust="spacingAndGlyphs" style="stroke-width:0">13</text>
<text x="180.20" y="244.50" font-size="6.7" font-weight="bold" textLength="14.80" lengthAdjust="spacingAndGlyphs">years</text>
<text x="88.30" y="140.70" font-size="6.6" textLength="30.20" lengthAdjust="spacingAndGlyphs" style="stroke-width:0.35px">Replication</text>
<text x="0.20" y="190.50" font-size="5.2" font-weight="bold" font-style="italic">P</text>
<text x="194.20" y="165.65" font-size="6.3" font-weight="bold" textLength="6.80" lengthAdjust="spacingAndGlyphs">GG</text>
<text x="207.00" y="165.65" font-size="6.3" font-weight="bold" textLength="43.70" lengthAdjust="spacingAndGlyphs">N=852, 88 events</text>
<text x="194.20" y="173.65" font-size="6.3" font-weight="bold" textLength="6.80" lengthAdjust="spacingAndGlyphs">TG</text>
<text x="207.00" y="173.65" font-size="6.3" font-weight="bold" textLength="43.70" lengthAdjust="spacingAndGlyphs">N=485, 71 events</text>
<text x="194.20" y="181.40" font-size="6.3" font-weight="bold" textLength="6.80" lengthAdjust="spacingAndGlyphs">TT</text>
<text x="207.00" y="181.40" font-size="6.3" font-weight="bold" textLength="43.70" lengthAdjust="spacingAndGlyphs">N=90,   27 events</text>
<text x="180.40" y="193.90" font-size="6.3" font-weight="bold" textLength="22.60" lengthAdjust="spacingAndGlyphs">GG vs TG</text>
<text x="209.20" y="193.90" font-size="6.3" font-weight="bold" textLength="16.80" lengthAdjust="spacingAndGlyphs"><tspan font-style="italic">P</tspan>=0.14</text>
<text x="180.40" y="203.90" font-size="6.3" font-weight="bold" textLength="22.60" lengthAdjust="spacingAndGlyphs">TG vs TT</text>
<text x="209.20" y="203.90" font-size="6.3" font-weight="bold" textLength="20.60" lengthAdjust="spacingAndGlyphs"><tspan font-style="italic">P</tspan>=3 x 10<tspan font-size="4" dy="-2">-4</tspan></text>
<text x="180.40" y="213.90" font-size="6.3" font-weight="bold" textLength="22.60" lengthAdjust="spacingAndGlyphs">GG vs TT</text>
<text x="209.20" y="213.90" font-size="6.3" font-weight="bold" textLength="17.80" lengthAdjust="spacingAndGlyphs"><tspan font-style="italic">P</tspan> &lt; 10<tspan font-size="4" dy="-2">-4</tspan></text>
<text x="0.10" y="276.50" font-size="12.3" font-weight="bold" style="stroke-width:0.35px">C</text>
<text x="12.70" y="277.19" font-size="6.4" font-weight="bold" textLength="8.30" lengthAdjust="spacingAndGlyphs" style="stroke-width:0">1.0</text>
<text x="12.70" y="286.05" font-size="6.4" font-weight="bold" textLength="8.30" lengthAdjust="spacingAndGlyphs" style="stroke-width:0">0.9</text>
<text x="12.70" y="294.91" font-size="6.4" font-weight="bold" textLength="8.30" lengthAdjust="spacingAndGlyphs" style="stroke-width:0">0.8</text>
<text x="12.70" y="303.77" font-size="6.4" font-weight="bold" textLength="8.30" lengthAdjust="spacingAndGlyphs" style="stroke-width:0">0.7</text>
<text x="12.70" y="312.63" font-size="6.4" font-weight="bold" textLength="8.30" lengthAdjust="spacingAndGlyphs" style="stroke-width:0">0.6</text>
<text x="12.70" y="321.49" font-size="6.4" font-weight="bold" textLength="8.30" lengthAdjust="spacingAndGlyphs" style="stroke-width:0">0.5</text>
<text x="12.70" y="330.35" font-size="6.4" font-weight="bold" textLength="8.30" lengthAdjust="spacingAndGlyphs" style="stroke-width:0">0.4</text>
<text x="12.70" y="339.21" font-size="6.4" font-weight="bold" textLength="8.30" lengthAdjust="spacingAndGlyphs" style="stroke-width:0">0.3</text>
<text x="12.70" y="348.07" font-size="6.4" font-weight="bold" textLength="8.30" lengthAdjust="spacingAndGlyphs" style="stroke-width:0">0.2</text>
<text x="12.70" y="356.93" font-size="6.4" font-weight="bold" textLength="8.30" lengthAdjust="spacingAndGlyphs" style="stroke-width:0">0.1</text>
<text x="12.70" y="365.79" font-size="6.4" font-weight="bold" textLength="8.30" lengthAdjust="spacingAndGlyphs" style="stroke-width:0">0.0</text>
<text x="26.60" y="376.99" font-size="6.4" font-weight="bold" text-anchor="middle" style="stroke-width:0">0</text>
<text x="37.75" y="376.99" font-size="6.4" font-weight="bold" text-anchor="middle" style="stroke-width:0">1</text>
<text x="48.89" y="376.99" font-size="6.4" font-weight="bold" text-anchor="middle" style="stroke-width:0">2</text>
<text x="60.04" y="376.99" font-size="6.4" font-weight="bold" text-anchor="middle" style="stroke-width:0">3</text>
<text x="71.18" y="376.99" font-size="6.4" font-weight="bold" text-anchor="middle" style="stroke-width:0">4</text>
<text x="82.33" y="376.99" font-size="6.4" font-weight="bold" text-anchor="middle" style="stroke-width:0">5</text>
<text x="93.48" y="376.99" font-size="6.4" font-weight="bold" text-anchor="middle" style="stroke-width:0">6</text>
<text x="104.62" y="376.99" font-size="6.4" font-weight="bold" text-anchor="middle" style="stroke-width:0">7</text>
<text x="115.77" y="376.99" font-size="6.4" font-weight="bold" text-anchor="middle" style="stroke-width:0">8</text>
<text x="126.92" y="376.99" font-size="6.4" font-weight="bold" text-anchor="middle" style="stroke-width:0">9</text>
<text x="134.86" y="376.99" font-size="6.4" font-weight="bold" textLength="6.40" lengthAdjust="spacingAndGlyphs" style="stroke-width:0">10</text>
<text x="146.01" y="376.99" font-size="6.4" font-weight="bold" textLength="6.40" lengthAdjust="spacingAndGlyphs" style="stroke-width:0">11</text>
<text x="157.15" y="376.99" font-size="6.4" font-weight="bold" textLength="6.40" lengthAdjust="spacingAndGlyphs" style="stroke-width:0">12</text>
<text x="168.30" y="376.99" font-size="6.4" font-weight="bold" textLength="6.40" lengthAdjust="spacingAndGlyphs" style="stroke-width:0">13</text>
<text x="179.70" y="375.60" font-size="6.7" font-weight="bold" textLength="14.60" lengthAdjust="spacingAndGlyphs">years</text>
<text x="90.00" y="272.00" font-size="6.6" textLength="27.50" lengthAdjust="spacingAndGlyphs" style="stroke-width:0.35px">Combined</text>
<text x="0.20" y="318.80" font-size="5.2" font-weight="bold" font-style="italic">P</text>
<text x="194.20" y="289.90" font-size="6.3" font-weight="bold" textLength="6.80" lengthAdjust="spacingAndGlyphs">GG</text>
<text x="206.60" y="289.90" font-size="6.3" font-weight="bold" textLength="50.60" lengthAdjust="spacingAndGlyphs">N=1362, 160 events</text>
<text x="194.20" y="297.90" font-size="6.3" font-weight="bold" textLength="6.80" lengthAdjust="spacingAndGlyphs">TG</text>
<text x="206.60" y="297.90" font-size="6.3" font-weight="bold" textLength="50.60" lengthAdjust="spacingAndGlyphs">N=755,   121 events</text>
<text x="194.20" y="306.10" font-size="6.3" font-weight="bold" textLength="6.80" lengthAdjust="spacingAndGlyphs">TT</text>
<text x="206.60" y="306.10" font-size="6.3" font-weight="bold" textLength="50.60" lengthAdjust="spacingAndGlyphs">N=141,     42 events</text>
<text x="180.40" y="318.80" font-size="6.3" font-weight="bold" textLength="22.60" lengthAdjust="spacingAndGlyphs">GG vs TG</text>
<text x="209.20" y="318.80" font-size="6.3" font-weight="bold" textLength="20.00" lengthAdjust="spacingAndGlyphs"><tspan font-style="italic">P</tspan>=0.005</text>
<text x="180.40" y="329.10" font-size="6.3" font-weight="bold" textLength="22.60" lengthAdjust="spacingAndGlyphs">TG vs TT</text>
<text x="209.20" y="329.10" font-size="6.3" font-weight="bold" textLength="15.40" lengthAdjust="spacingAndGlyphs"><tspan font-style="italic">P</tspan>&lt;10<tspan font-size="4" dy="-2">-4</tspan></text>
<text x="180.40" y="338.45" font-size="6.3" font-weight="bold" textLength="22.60" lengthAdjust="spacingAndGlyphs">GG vs TT</text>
<text x="209.20" y="338.45" font-size="6.3" font-weight="bold" textLength="15.40" lengthAdjust="spacingAndGlyphs"><tspan font-style="italic">P</tspan>&lt;10<tspan font-size="4" dy="-2">-4</tspan></text>
<text x="262.84" y="25.40" font-size="12.3" font-weight="bold" style="stroke-width:0.35px">D</text>
<text x="274.40" y="34.99" font-size="6.4" font-weight="bold" textLength="8.30" lengthAdjust="spacingAndGlyphs" style="stroke-width:0">1.0</text>
<text x="274.40" y="43.89" font-size="6.4" font-weight="bold" textLength="8.30" lengthAdjust="spacingAndGlyphs" style="stroke-width:0">0.9</text>
<text x="274.40" y="52.79" font-size="6.4" font-weight="bold" textLength="8.30" lengthAdjust="spacingAndGlyphs" style="stroke-width:0">0.8</text>
<text x="274.40" y="61.69" font-size="6.4" font-weight="bold" textLength="8.30" lengthAdjust="spacingAndGlyphs" style="stroke-width:0">0.7</text>
<text x="274.40" y="70.59" font-size="6.4" font-weight="bold" textLength="8.30" lengthAdjust="spacingAndGlyphs" style="stroke-width:0">0.6</text>
<text x="274.40" y="79.49" font-size="6.4" font-weight="bold" textLength="8.30" lengthAdjust="spacingAndGlyphs" style="stroke-width:0">0.5</text>
<text x="274.40" y="88.39" font-size="6.4" font-weight="bold" textLength="8.30" lengthAdjust="spacingAndGlyphs" style="stroke-width:0">0.4</text>
<text x="274.40" y="97.29" font-size="6.4" font-weight="bold" textLength="8.30" lengthAdjust="spacingAndGlyphs" style="stroke-width:0">0.3</text>
<text x="274.40" y="106.19" font-size="6.4" font-weight="bold" textLength="8.30" lengthAdjust="spacingAndGlyphs" style="stroke-width:0">0.2</text>
<text x="274.40" y="115.09" font-size="6.4" font-weight="bold" textLength="8.30" lengthAdjust="spacingAndGlyphs" style="stroke-width:0">0.1</text>
<text x="274.40" y="123.99" font-size="6.4" font-weight="bold" textLength="8.30" lengthAdjust="spacingAndGlyphs" style="stroke-width:0">0.0</text>
<text x="286.30" y="132.24" font-size="6.4" font-weight="bold" text-anchor="middle" style="stroke-width:0">0</text>
<text x="297.45" y="132.24" font-size="6.4" font-weight="bold" text-anchor="middle" style="stroke-width:0">1</text>
<text x="308.60" y="132.24" font-size="6.4" font-weight="bold" text-anchor="middle" style="stroke-width:0">2</text>
<text x="319.75" y="132.24" font-size="6.4" font-weight="bold" text-anchor="middle" style="stroke-width:0">3</text>
<text x="330.90" y="132.24" font-size="6.4" font-weight="bold" text-anchor="middle" style="stroke-width:0">4</text>
<text x="342.05" y="132.24" font-size="6.4" font-weight="bold" text-anchor="middle" style="stroke-width:0">5</text>
<text x="353.20" y="132.24" font-size="6.4" font-weight="bold" text-anchor="middle" style="stroke-width:0">6</text>
<text x="364.35" y="132.24" font-size="6.4" font-weight="bold" text-anchor="middle" style="stroke-width:0">7</text>
<text x="375.50" y="132.24" font-size="6.4" font-weight="bold" text-anchor="middle" style="stroke-width:0">8</text>
<text x="386.65" y="132.24" font-size="6.4" font-weight="bold" text-anchor="middle" style="stroke-width:0">9</text>
<text x="394.60" y="132.24" font-size="6.4" font-weight="bold" textLength="6.40" lengthAdjust="spacingAndGlyphs" style="stroke-width:0">10</text>
<text x="405.75" y="132.24" font-size="6.4" font-weight="bold" textLength="6.40" lengthAdjust="spacingAndGlyphs" style="stroke-width:0">11</text>
<text x="416.90" y="132.24" font-size="6.4" font-weight="bold" textLength="6.40" lengthAdjust="spacingAndGlyphs" style="stroke-width:0">12</text>
<text x="428.05" y="132.24" font-size="6.4" font-weight="bold" textLength="6.40" lengthAdjust="spacingAndGlyphs" style="stroke-width:0">13</text>
<text x="441.00" y="131.50" font-size="6.7" font-weight="bold" textLength="14.50" lengthAdjust="spacingAndGlyphs">years</text>
<text x="356.00" y="21.10" font-size="6.6" textLength="40.60" lengthAdjust="spacingAndGlyphs" style="stroke-width:0.35px">German GWAS</text>
<text x="264.20" y="77.90" font-size="5.2" font-weight="bold" font-style="italic">P</text>
<text x="456.60" y="48.10" font-size="6.3" font-weight="bold" textLength="6.40" lengthAdjust="spacingAndGlyphs">TT</text>
<text x="468.90" y="48.10" font-size="6.3" font-weight="bold" textLength="44.80" lengthAdjust="spacingAndGlyphs">N=434, 71 events</text>
<text x="456.60" y="56.40" font-size="6.3" font-weight="bold" textLength="6.40" lengthAdjust="spacingAndGlyphs">CC</text>
<text x="468.90" y="56.40" font-size="6.3" font-weight="bold" textLength="44.80" lengthAdjust="spacingAndGlyphs">N=325, 56 events</text>
<text x="456.60" y="64.10" font-size="6.3" font-weight="bold" textLength="6.40" lengthAdjust="spacingAndGlyphs">TC</text>
<text x="468.90" y="64.10" font-size="6.3" font-weight="bold" textLength="42.50" lengthAdjust="spacingAndGlyphs">N=72,  10 events</text>
<text x="443.00" y="78.80" font-size="6.3" font-weight="bold" textLength="21.10" lengthAdjust="spacingAndGlyphs">TT vs TC</text>
<text x="471.70" y="78.80" font-size="6.3" font-weight="bold" textLength="16.90" lengthAdjust="spacingAndGlyphs"><tspan font-style="italic">P</tspan>=0.71</text>
<text x="443.00" y="88.30" font-size="6.3" font-weight="bold" textLength="21.10" lengthAdjust="spacingAndGlyphs">TT vs CC</text>
<text x="471.70" y="88.30" font-size="6.3" font-weight="bold" textLength="16.90" lengthAdjust="spacingAndGlyphs"><tspan font-style="italic">P</tspan>=0.70</text>
<text x="443.00" y="98.20" font-size="6.3" font-weight="bold" textLength="21.10" lengthAdjust="spacingAndGlyphs">TC vs CC</text>
<text x="471.70" y="98.20" font-size="6.3" font-weight="bold" textLength="16.90" lengthAdjust="spacingAndGlyphs"><tspan font-style="italic">P</tspan>=0.55</text>
<text x="263.34" y="145.50" font-size="12.3" font-weight="bold" style="stroke-width:0.35px">E</text>
<text x="274.40" y="153.19" font-size="6.4" font-weight="bold" textLength="8.30" lengthAdjust="spacingAndGlyphs" style="stroke-width:0">1.0</text>
<text x="274.40" y="162.08" font-size="6.4" font-weight="bold" textLength="8.30" lengthAdjust="spacingAndGlyphs" style="stroke-width:0">0.9</text>
<text x="274.40" y="170.97" font-size="6.4" font-weight="bold" textLength="8.30" lengthAdjust="spacingAndGlyphs" style="stroke-width:0">0.8</text>
<text x="274.40" y="179.86" font-size="6.4" font-weight="bold" textLength="8.30" lengthAdjust="spacingAndGlyphs" style="stroke-width:0">0.7</text>
<text x="274.40" y="188.75" font-size="6.4" font-weight="bold" textLength="8.30" lengthAdjust="spacingAndGlyphs" style="stroke-width:0">0.6</text>
<text x="274.40" y="197.64" font-size="6.4" font-weight="bold" textLength="8.30" lengthAdjust="spacingAndGlyphs" style="stroke-width:0">0.5</text>
<text x="274.40" y="206.53" font-size="6.4" font-weight="bold" textLength="8.30" lengthAdjust="spacingAndGlyphs" style="stroke-width:0">0.4</text>
<text x="274.40" y="215.42" font-size="6.4" font-weight="bold" textLength="8.30" lengthAdjust="spacingAndGlyphs" style="stroke-width:0">0.3</text>
<text x="274.40" y="224.31" font-size="6.4" font-weight="bold" textLength="8.30" lengthAdjust="spacingAndGlyphs" style="stroke-width:0">0.2</text>
<text x="274.40" y="233.20" font-size="6.4" font-weight="bold" textLength="8.30" lengthAdjust="spacingAndGlyphs" style="stroke-width:0">0.1</text>
<text x="274.40" y="242.09" font-size="6.4" font-weight="bold" textLength="8.30" lengthAdjust="spacingAndGlyphs" style="stroke-width:0">0.0</text>
<text x="288.10" y="251.89" font-size="6.4" font-weight="bold" text-anchor="middle" style="stroke-width:0">0</text>
<text x="299.21" y="251.89" font-size="6.4" font-weight="bold" text-anchor="middle" style="stroke-width:0">1</text>
<text x="310.32" y="251.89" font-size="6.4" font-weight="bold" text-anchor="middle" style="stroke-width:0">2</text>
<text x="321.42" y="251.89" font-size="6.4" font-weight="bold" text-anchor="middle" style="stroke-width:0">3</text>
<text x="332.53" y="251.89" font-size="6.4" font-weight="bold" text-anchor="middle" style="stroke-width:0">4</text>
<text x="343.64" y="251.89" font-size="6.4" font-weight="bold" text-anchor="middle" style="stroke-width:0">5</text>
<text x="354.75" y="251.89" font-size="6.4" font-weight="bold" text-anchor="middle" style="stroke-width:0">6</text>
<text x="365.85" y="251.89" font-size="6.4" font-weight="bold" text-anchor="middle" style="stroke-width:0">7</text>
<text x="376.96" y="251.89" font-size="6.4" font-weight="bold" text-anchor="middle" style="stroke-width:0">8</text>
<text x="388.07" y="251.89" font-size="6.4" font-weight="bold" text-anchor="middle" style="stroke-width:0">9</text>
<text x="395.98" y="251.89" font-size="6.4" font-weight="bold" textLength="6.40" lengthAdjust="spacingAndGlyphs" style="stroke-width:0">10</text>
<text x="407.08" y="251.89" font-size="6.4" font-weight="bold" textLength="6.40" lengthAdjust="spacingAndGlyphs" style="stroke-width:0">11</text>
<text x="418.19" y="251.89" font-size="6.4" font-weight="bold" textLength="6.40" lengthAdjust="spacingAndGlyphs" style="stroke-width:0">12</text>
<text x="429.30" y="251.89" font-size="6.4" font-weight="bold" textLength="6.40" lengthAdjust="spacingAndGlyphs" style="stroke-width:0">13</text>
<text x="442.20" y="251.70" font-size="6.7" font-weight="bold" textLength="14.10" lengthAdjust="spacingAndGlyphs">years</text>
<text x="366.30" y="148.10" font-size="6.6" textLength="30.50" lengthAdjust="spacingAndGlyphs" style="stroke-width:0.35px">Replication</text>
<text x="264.20" y="196.00" font-size="5.2" font-weight="bold" font-style="italic">P</text>
<text x="456.60" y="172.40" font-size="6.3" font-weight="bold" textLength="6.40" lengthAdjust="spacingAndGlyphs">TT</text>
<text x="469.30" y="172.40" font-size="6.3" font-weight="bold" textLength="46.70" lengthAdjust="spacingAndGlyphs">N=790, 103 events</text>
<text x="456.60" y="180.80" font-size="6.3" font-weight="bold" textLength="6.40" lengthAdjust="spacingAndGlyphs">TC</text>
<text x="469.30" y="180.80" font-size="6.3" font-weight="bold" textLength="45.50" lengthAdjust="spacingAndGlyphs">N=539,  68 events</text>
<text x="456.60" y="189.05" font-size="6.3" font-weight="bold" textLength="6.40" lengthAdjust="spacingAndGlyphs">CC</text>
<text x="469.30" y="189.05" font-size="6.3" font-weight="bold" textLength="43.70" lengthAdjust="spacingAndGlyphs">N=98,   16 events</text>
<text x="443.40" y="202.35" font-size="6.3" font-weight="bold" textLength="20.20" lengthAdjust="spacingAndGlyphs">TT vs TC</text>
<text x="472.20" y="202.35" font-size="6.3" font-weight="bold" textLength="16.80" lengthAdjust="spacingAndGlyphs"><tspan font-style="italic">P</tspan>=0.90</text>
<text x="443.40" y="211.20" font-size="6.3" font-weight="bold" textLength="20.20" lengthAdjust="spacingAndGlyphs">TC vs CC</text>
<text x="472.20" y="211.20" font-size="6.3" font-weight="bold" textLength="16.80" lengthAdjust="spacingAndGlyphs"><tspan font-style="italic">P</tspan>=0.55</text>
<text x="443.40" y="220.80" font-size="6.3" font-weight="bold" textLength="20.20" lengthAdjust="spacingAndGlyphs">TT vs CC</text>
<text x="472.20" y="220.80" font-size="6.3" font-weight="bold" textLength="16.80" lengthAdjust="spacingAndGlyphs"><tspan font-style="italic">P</tspan>=0.70</text>
<text x="263.34" y="276.50" font-size="12.3" font-weight="bold" style="stroke-width:0.35px">F</text>
<text x="274.40" y="271.19" font-size="6.4" font-weight="bold" textLength="8.30" lengthAdjust="spacingAndGlyphs" style="stroke-width:0">1.0</text>
<text x="274.40" y="280.09" font-size="6.4" font-weight="bold" textLength="8.30" lengthAdjust="spacingAndGlyphs" style="stroke-width:0">0.9</text>
<text x="274.40" y="288.99" font-size="6.4" font-weight="bold" textLength="8.30" lengthAdjust="spacingAndGlyphs" style="stroke-width:0">0.8</text>
<text x="274.40" y="297.89" font-size="6.4" font-weight="bold" textLength="8.30" lengthAdjust="spacingAndGlyphs" style="stroke-width:0">0.7</text>
<text x="274.40" y="306.79" font-size="6.4" font-weight="bold" textLength="8.30" lengthAdjust="spacingAndGlyphs" style="stroke-width:0">0.6</text>
<text x="274.40" y="315.69" font-size="6.4" font-weight="bold" textLength="8.30" lengthAdjust="spacingAndGlyphs" style="stroke-width:0">0.5</text>
<text x="274.40" y="324.59" font-size="6.4" font-weight="bold" textLength="8.30" lengthAdjust="spacingAndGlyphs" style="stroke-width:0">0.4</text>
<text x="274.40" y="333.49" font-size="6.4" font-weight="bold" textLength="8.30" lengthAdjust="spacingAndGlyphs" style="stroke-width:0">0.3</text>
<text x="274.40" y="342.39" font-size="6.4" font-weight="bold" textLength="8.30" lengthAdjust="spacingAndGlyphs" style="stroke-width:0">0.2</text>
<text x="274.40" y="351.29" font-size="6.4" font-weight="bold" textLength="8.30" lengthAdjust="spacingAndGlyphs" style="stroke-width:0">0.1</text>
<text x="274.40" y="360.19" font-size="6.4" font-weight="bold" textLength="8.30" lengthAdjust="spacingAndGlyphs" style="stroke-width:0">0.0</text>
<text x="286.30" y="369.49" font-size="6.4" font-weight="bold" text-anchor="middle" style="stroke-width:0">0</text>
<text x="297.45" y="369.49" font-size="6.4" font-weight="bold" text-anchor="middle" style="stroke-width:0">1</text>
<text x="308.60" y="369.49" font-size="6.4" font-weight="bold" text-anchor="middle" style="stroke-width:0">2</text>
<text x="319.75" y="369.49" font-size="6.4" font-weight="bold" text-anchor="middle" style="stroke-width:0">3</text>
<text x="330.90" y="369.49" font-size="6.4" font-weight="bold" text-anchor="middle" style="stroke-width:0">4</text>
<text x="342.05" y="369.49" font-size="6.4" font-weight="bold" text-anchor="middle" style="stroke-width:0">5</text>
<text x="353.20" y="369.49" font-size="6.4" font-weight="bold" text-anchor="middle" style="stroke-width:0">6</text>
<text x="364.35" y="369.49" font-size="6.4" font-weight="bold" text-anchor="middle" style="stroke-width:0">7</text>
<text x="375.50" y="369.49" font-size="6.4" font-weight="bold" text-anchor="middle" style="stroke-width:0">8</text>
<text x="386.65" y="369.49" font-size="6.4" font-weight="bold" text-anchor="middle" style="stroke-width:0">9</text>
<text x="394.60" y="369.49" font-size="6.4" font-weight="bold" textLength="6.40" lengthAdjust="spacingAndGlyphs" style="stroke-width:0">10</text>
<text x="405.75" y="369.49" font-size="6.4" font-weight="bold" textLength="6.40" lengthAdjust="spacingAndGlyphs" style="stroke-width:0">11</text>
<text x="416.90" y="369.49" font-size="6.4" font-weight="bold" textLength="6.40" lengthAdjust="spacingAndGlyphs" style="stroke-width:0">12</text>
<text x="428.05" y="369.49" font-size="6.4" font-weight="bold" textLength="6.40" lengthAdjust="spacingAndGlyphs" style="stroke-width:0">13</text>
<text x="442.70" y="366.20" font-size="6.7" font-weight="bold" textLength="14.10" lengthAdjust="spacingAndGlyphs">years</text>
<text x="355.00" y="262.80" font-size="6.6" textLength="27.90" lengthAdjust="spacingAndGlyphs" style="stroke-width:0.35px">Combined</text>
<text x="265.00" y="314.20" font-size="5.2" font-weight="bold" font-style="italic">P</text>
<text x="456.60" y="286.65" font-size="6.3" font-weight="bold" textLength="6.40" lengthAdjust="spacingAndGlyphs">TT</text>
<text x="469.30" y="286.65" font-size="6.3" font-weight="bold" textLength="51.20" lengthAdjust="spacingAndGlyphs">N=1224, 174 events</text>
<text x="456.60" y="294.15" font-size="6.3" font-weight="bold" textLength="6.40" lengthAdjust="spacingAndGlyphs">TC</text>
<text x="469.30" y="294.15" font-size="6.3" font-weight="bold" textLength="48.00" lengthAdjust="spacingAndGlyphs">N=864,  124 events</text>
<text x="456.60" y="302.40" font-size="6.3" font-weight="bold" textLength="6.40" lengthAdjust="spacingAndGlyphs">CC</text>
<text x="469.30" y="302.40" font-size="6.3" font-weight="bold" textLength="44.20" lengthAdjust="spacingAndGlyphs">N=170,   26 events</text>
<text x="442.80" y="314.70" font-size="6.3" font-weight="bold" textLength="20.80" lengthAdjust="spacingAndGlyphs">TT vs TC</text>
<text x="471.50" y="314.70" font-size="6.3" font-weight="bold" textLength="17.10" lengthAdjust="spacingAndGlyphs"><tspan font-style="italic">P</tspan>=0.90</text>
<text x="442.80" y="325.20" font-size="6.3" font-weight="bold" textLength="20.80" lengthAdjust="spacingAndGlyphs">TC vs CC</text>
<text x="471.50" y="325.20" font-size="6.3" font-weight="bold" textLength="17.10" lengthAdjust="spacingAndGlyphs"><tspan font-style="italic">P</tspan>=0.88</text>
<text x="442.80" y="334.75" font-size="6.3" font-weight="bold" textLength="20.80" lengthAdjust="spacingAndGlyphs">TT vs CC</text>
<text x="471.50" y="334.75" font-size="6.3" font-weight="bold" textLength="17.10" lengthAdjust="spacingAndGlyphs"><tspan font-style="italic">P</tspan>=0.80</text>
<text x="82.20" y="5.00" font-size="6.6" textLength="51.20" lengthAdjust="spacingAndGlyphs" style="stroke-width:0.35px">rs3824662 (10p14)</text>
<text x="138.20" y="5.00" font-size="6.6" font-style="italic" textLength="16.30" lengthAdjust="spacingAndGlyphs" style="stroke-width:0.35px">GATA3</text>
<text x="336.10" y="5.00" font-size="6.6" textLength="61.90" lengthAdjust="spacingAndGlyphs" style="stroke-width:0.35px">rs10828317 (10p12.2)</text>
<text x="401.00" y="5.00" font-size="6.6" font-style="italic" textLength="22.00" lengthAdjust="spacingAndGlyphs" style="stroke-width:0.35px">PIP4K2A</text>
</g>
</svg>
</body></html>
